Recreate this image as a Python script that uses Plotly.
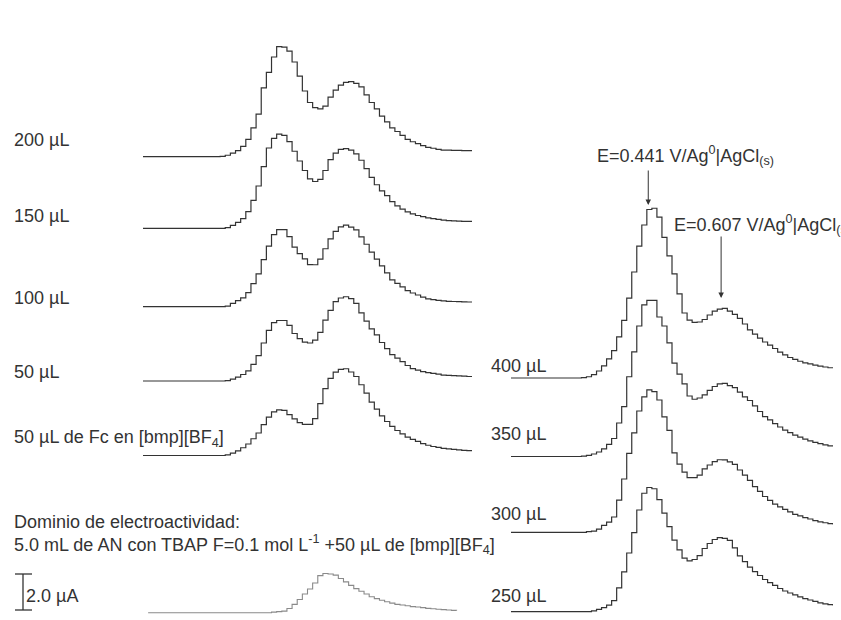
import plotly.graph_objects as go

# Potential sweep (V), staircase step of 12.5 mV
POTENTIAL_V = [round(0.10 + 0.0125 * k, 4) for k in range(65)]
POTENTIAL_DOM_V = POTENTIAL_V[1:62]

# ---- Left panel currents (µA, relative to each baseline) ----
I_200 = [0]*15 + [0.02, 0.08, 0.2, 0.34, 0.57, 0.96, 1.6, 2.37, 3.82, 4.68, 5.54, 6.11, 6.09, 5.87, 5.26,
         4.48, 3.65, 3.01, 2.73, 2.66, 2.81, 3.31, 3.7, 3.98, 4.13, 4.17, 4.07, 3.88, 3.44, 3.01, 2.66,
         2.25, 1.93, 1.6, 1.4, 1.18, 0.96, 0.83, 0.73, 0.62, 0.52, 0.47, 0.41, 0.37, 0.36, 0.35, 0.35,
         0.34, 0.34, 0.33]
I_150 = [0]*16 + [0.04, 0.16, 0.33, 0.54, 0.93, 1.55, 2.35, 3.43, 4.46, 5.0, 5.23, 5.16, 4.81, 4.28,
         3.74, 3.21, 2.75, 2.6, 2.72, 3.21, 3.82, 4.18, 4.39, 4.43, 4.34, 4.14, 3.78, 3.32, 2.83, 2.42,
         2.08, 1.81, 1.48, 1.25, 1.07, 0.91, 0.8, 0.71, 0.65, 0.58, 0.54, 0.5, 0.45, 0.43, 0.41, 0.4,
         0.39, 0.38, 0.37]
I_100 = [0]*16 + [0.03, 0.18, 0.34, 0.49, 0.78, 1.28, 1.82, 2.61, 3.37, 4.0, 4.28, 4.28, 3.89, 3.31,
         2.95, 2.66, 2.34, 2.33, 2.64, 3.22, 3.77, 4.19, 4.44, 4.53, 4.42, 4.27, 3.88, 3.47, 3.03, 2.64,
         2.27, 1.88, 1.49, 1.3, 1.1, 0.89, 0.76, 0.65, 0.53, 0.44, 0.39, 0.35, 0.32, 0.3, 0.29, 0.28,
         0.27, 0.26, 0.25]
I_50 = [0]*16 + [0.02, 0.1, 0.22, 0.36, 0.56, 0.92, 1.41, 2.11, 2.81, 3.24, 3.36, 3.36, 3.09, 2.64,
        2.35, 2.16, 2.11, 2.27, 2.7, 3.38, 3.92, 4.41, 4.61, 4.68, 4.58, 4.31, 3.78, 3.33, 2.9, 2.56,
        2.14, 1.8, 1.47, 1.27, 1.08, 0.86, 0.69, 0.6, 0.52, 0.47, 0.42, 0.38, 0.33, 0.31, 0.3, 0.28,
        0.27, 0.25, 0.24]
I_FC = [0]*16 + [0.04, 0.13, 0.26, 0.43, 0.64, 0.93, 1.25, 1.72, 2.13, 2.42, 2.53, 2.51, 2.27, 2.03,
        1.83, 1.73, 1.73, 2.05, 2.88, 3.72, 4.29, 4.63, 4.79, 4.82, 4.64, 4.39, 3.93, 3.46, 2.97, 2.58,
        2.2, 1.89, 1.62, 1.39, 1.2, 1.02, 0.9, 0.78, 0.66, 0.57, 0.5, 0.45, 0.4, 0.37, 0.34, 0.31,
        0.29, 0.27, 0.25]
I_DOM = [0]*24 + [0.03, 0.06, 0.09, 0.23, 0.46, 0.73, 1.04, 1.32, 1.65, 2.06, 2.18, 2.15, 2.09, 1.9,
         1.71, 1.52, 1.34, 1.19, 1.04, 0.89, 0.78, 0.69, 0.61, 0.53, 0.46, 0.43, 0.39, 0.34, 0.32,
         0.28, 0.24, 0.22, 0.19, 0.17, 0.15, 0.13, 0.12]

# ---- Right panel currents (µA) ----
I_400 = [0]*14 + [0.02, 0.07, 0.19, 0.39, 0.67, 1.06, 1.52, 2.28, 3.2, 4.44, 5.89, 7.33, 8.5, 9.36,
         9.43, 8.94, 7.81, 6.78, 5.78, 4.67, 3.61, 3.22, 3.09, 3.11, 3.25, 3.5, 3.72, 3.83, 3.87, 3.72,
         3.53, 3.31, 3.0, 2.67, 2.44, 2.22, 2.0, 1.83, 1.64, 1.44, 1.28, 1.14, 1.03, 0.93, 0.84, 0.78,
         0.71, 0.66, 0.61, 0.57, 0.54]
I_350 = [0]*14 + [0.02, 0.06, 0.14, 0.25, 0.42, 0.67, 1.0, 1.86, 2.77, 4.43, 5.81, 7.25, 8.42, 8.67,
         8.67, 7.75, 7.25, 6.31, 5.19, 4.58, 4.03, 3.36, 3.18, 3.25, 3.42, 3.67, 3.89, 4.03, 4.06, 3.94,
         3.83, 3.58, 3.31, 3.11, 2.81, 2.5, 2.22, 2.03, 1.83, 1.64, 1.47, 1.33, 1.19, 1.08, 0.97, 0.87,
         0.78, 0.71, 0.65, 0.59, 0.55]
I_300 = [0]*15 + [0.04, 0.07, 0.18, 0.38, 0.57, 0.85, 1.79, 2.96, 4.38, 5.52, 6.74, 7.52, 7.91, 7.82,
         7.35, 6.41, 5.66, 4.41, 3.79, 3.34, 3.04, 3.04, 3.18, 3.52, 3.74, 3.93, 4.03, 4.02, 3.91, 3.77,
         3.46, 3.18, 2.88, 2.54, 2.27, 1.99, 1.77, 1.57, 1.41, 1.27, 1.13, 1.0, 0.91, 0.82, 0.74, 0.65,
         0.58, 0.53, 0.48, 0.43]
I_250 = [0]*16 + [0.05, 0.13, 0.23, 0.37, 0.62, 1.32, 2.21, 3.26, 4.39, 5.65, 6.58, 6.9, 6.83, 6.23,
         5.48, 4.73, 3.98, 3.43, 2.98, 2.82, 2.9, 3.12, 3.51, 3.79, 4.01, 4.11, 4.07, 3.96, 3.55, 3.1,
         2.78, 2.48, 2.23, 2.01, 1.79, 1.62, 1.46, 1.29, 1.15, 1.04, 0.93, 0.82, 0.73, 0.65, 0.57, 0.49,
         0.44, 0.39, 0.34]

LEFT_LABELS = ["200 µL", "150 µL", "100 µL", "50 µL", "50 µL de Fc en [bmp][BF<sub>4</sub>]"]
RIGHT_LABELS = ["400 µL", "350 µL", "300 µL", "250 µL"]
PEAK_LABELS = ["E=0.441 V/Ag<sup>0</sup>|AgCl<sub>(s)</sub>", "E=0.607 V/Ag<sup>0</sup>|AgCl<sub>(s)</sub>"]
PEAK_POTENTIALS = [0.441, 0.622]

# ---- layout constants (pixels of the 841 x 620 canvas) ----
W, H = 841, 620
PX_PER_UA = 18.0
def ua(py):  # canvas pixel row -> current axis value
    return (H - py) / PX_PER_UA

LEFT_BASE_PX = [156.7, 228.3, 306.7, 381.0, 455.5]
DOM_BASE_PX = 612.7
RIGHT_BASE_PX = [378.0, 456.5, 532.3, 611.7]

LINE = dict(color="#333333", width=1.2, shape="hv")
fig = go.Figure()
for cur, b in zip([I_200, I_150, I_100, I_50, I_FC], LEFT_BASE_PX):
    assert len(cur) == len(POTENTIAL_V)
    fig.add_trace(go.Scatter(x=POTENTIAL_V, y=[ua(b) + c for c in cur], mode="lines",
                             line=LINE, xaxis="x", yaxis="y", hoverinfo="skip"))
assert len(I_DOM) == len(POTENTIAL_DOM_V)
fig.add_trace(go.Scatter(x=POTENTIAL_DOM_V, y=[ua(DOM_BASE_PX) + c for c in I_DOM], mode="lines",
                         line=dict(color="#8a8a8a", width=1.1, shape="hv"), xaxis="x", yaxis="y",
                         hoverinfo="skip"))
for cur, b in zip([I_400, I_350, I_300, I_250], RIGHT_BASE_PX):
    assert len(cur) == len(POTENTIAL_V)
    fig.add_trace(go.Scatter(x=POTENTIAL_V, y=[ua(b) + c for c in cur], mode="lines",
                             line=LINE, xaxis="x2", yaxis="y", hoverinfo="skip"))

FONT = dict(family="Liberation Sans, Arial, sans-serif", size=18, color="#333333")
ann = []
def label(text, px, py, **kw):
    ann.append(dict(text=text, xref="paper", yref="paper", x=px / W, y=1 - py / H,
                    xanchor="left", yanchor="middle", showarrow=False, font=FONT, **kw))

for t, py in zip(LEFT_LABELS, [140, 216, 298, 372, 439]):
    label(t, 12, py)
for t, py in zip(RIGHT_LABELS, [366, 434, 514, 596]):
    label(t, 489, py)
label("Dominio de electroactividad:", 12, 522)
label("5.0 mL de AN con TBAP F=0.1 mol L<sup>-1</sup> +50 µL de [bmp][BF<sub>4</sub>]", 12, 544)
label("2.0 µA", 24, 596)
label(PEAK_LABELS[0], 595, 155)
label(PEAK_LABELS[1], 672, 224)

# arrows to the peaks
for e, tip_py, tail_py in zip(PEAK_POTENTIALS, [205, 298], [169, 235]):
    ann.append(dict(text="", x=e, y=ua(tip_py), xref="x2", yref="y", ax=0, ay=tail_py - tip_py,
                    axref="pixel", ayref="pixel", showarrow=True, arrowhead=2, arrowsize=1.1,
                    arrowwidth=1, arrowcolor="#333333", standoff=0))

# scale bar 2.0 µA
bar_x0 = 23 / W
shapes = [
    dict(type="line", xref="paper", yref="y", x0=bar_x0, x1=bar_x0, y0=ua(610), y1=ua(610) + 2.0,
         line=dict(color="#333333", width=1.3)),
    dict(type="line", xref="paper", yref="y", x0=15 / W, x1=32 / W, y0=ua(610), y1=ua(610),
         line=dict(color="#333333", width=1.3)),
    dict(type="line", xref="paper", yref="y", x0=15 / W, x1=32 / W, y0=ua(610) + 2.0, y1=ua(610) + 2.0,
         line=dict(color="#333333", width=1.3)),
]

fig.update_layout(
    width=W, height=H, margin=dict(l=0, r=0, t=0, b=0),
    paper_bgcolor="white", plot_bgcolor="white", showlegend=False,
    xaxis=dict(domain=[143 / W, 472 / W], range=[0.10, 0.90], visible=False, anchor="y"),
    xaxis2=dict(domain=[511 / W, 833 / W], range=[0.10, 0.90], visible=False, anchor="y"),
    yaxis=dict(domain=[0, 1], range=[0, H / PX_PER_UA], visible=False, anchor="x"),
    annotations=ann, shapes=shapes,
)
fig.write_html("out.html", config={"displayModeBar": False},
               post_script="document.body.style.margin='0';document.body.style.overflow='hidden';")
